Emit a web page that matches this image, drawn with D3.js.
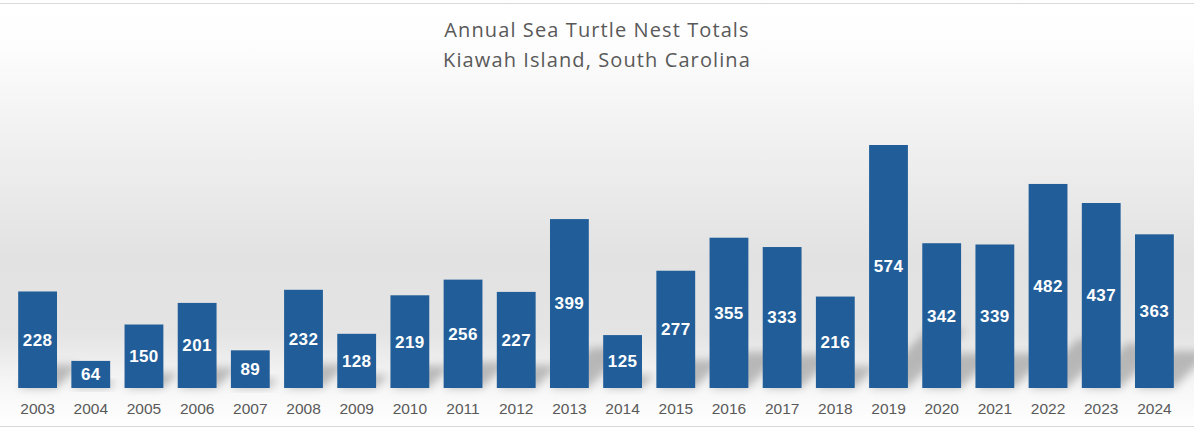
<!DOCTYPE html>
<html>
<head>
<meta charset="utf-8">
<script src="https://cdn.jsdelivr.net/npm/d3@7"></script>
<style>
    body { margin: 0; background: #fff; }
    svg { display: block; }
</style>
</head>
<body>
<script>
// data
var years = ["2003", "2004", "2005", "2006", "2007", "2008", "2009", "2010",
    "2011", "2012", "2013", "2014", "2015", "2016", "2017", "2018", "2019",
    "2020", "2021", "2022", "2023", "2024"];
var nests = [228, 64, 150, 201, 89, 232, 128, 219, 256, 227, 399, 125, 277,
    355, 333, 216, 574, 342, 339, 482, 437, 363];
var titleLines = ["Annual Sea Turtle Nest Totals", "Kiawah Island, South Carolina"];

var W = 1194, H = 429;
var plot = {left: 11, right: 1181, top: 145, bottom: 388};

var svg = d3.select("body").append("svg")
    .attr("width", W)
    .attr("height", H);

var defs = svg.append("defs");

// soft grey wash behind the chart
var grad = defs.append("linearGradient")
    .attr("id", "bg")
    .attr("x1", 0).attr("y1", 0).attr("x2", 0).attr("y2", 1);
[[0, "#ffffff"], [0.1, "#fdfdfd"], [0.35, "#efefef"], [0.6, "#e2e2e2"],
 [0.78, "#e4e4e4"], [0.9, "#f6f6f6"], [1, "#ffffff"]].forEach(function(s) {
    grad.append("stop").attr("offset", s[0]).attr("stop-color", s[1]);
});

defs.append("filter")
    .attr("id", "blur")
    .attr("x", "-50%").attr("y", "-50%")
    .attr("width", "200%").attr("height", "200%")
    .append("feGaussianBlur")
    .attr("stdDeviation", 4);

svg.append("rect")
    .attr("x", 0).attr("y", 4)
    .attr("width", W).attr("height", 422)
    .attr("fill", "url(#bg)");

// thin frame lines top and bottom
svg.append("line")
    .attr("x1", 0).attr("x2", W).attr("y1", 3.5).attr("y2", 3.5)
    .attr("stroke", "#d9d9d9");
svg.append("line")
    .attr("x1", 0).attr("x2", W).attr("y1", 426.5).attr("y2", 426.5)
    .attr("stroke", "#d9d9d9");

var xScale = d3.scaleBand()
    .domain(years)
    .range([plot.left, plot.right])
    .paddingInner(0.27)
    .paddingOuter(0.135);

var yScale = d3.scaleLinear()
    .domain([0, 574])
    .range([plot.bottom, plot.top]);

var data = years.map(function(y, i) { return {key: y, value: nests[i]}; });

// floor shadows leaning to the right
svg.append("g")
    .selectAll("polygon")
    .data(data)
    .enter()
    .append("polygon")
    .attr("points", function(d) {
        var x0 = xScale(d.key), x1 = x0 + xScale.bandwidth();
        var y0 = yScale(0);
        var sh = (y0 - yScale(d.value)) * 0.24;
        return [[x0, y0], [x1, y0], [x1 + sh, y0 - sh], [x0 + sh, y0 - sh]]
            .map(function(p) { return p.join(","); }).join(" ");
    })
    .attr("fill", "#8a8a8a")
    .attr("opacity", 0.55)
    .attr("filter", "url(#blur)");

svg.append("g")
    .selectAll("rect")
    .data(data)
    .enter()
    .append("rect")
    .attr("x", function(d) { return xScale(d.key); })
    .attr("y", function(d) { return yScale(d.value); })
    .attr("width", xScale.bandwidth())
    .attr("height", function(d) { return yScale(0) - yScale(d.value); })
    .attr("fill", "#215e99");

// value labels in the middle of each bar
svg.append("g")
    .selectAll("text")
    .data(data)
    .enter()
    .append("text")
    .attr("x", function(d) { return xScale(d.key) + xScale.bandwidth() / 2; })
    .attr("y", function(d) { return (yScale(0) + yScale(d.value)) / 2; })
    .attr("dy", "0.35em")
    .attr("text-anchor", "middle")
    .attr("font-family", "Liberation Sans, Arial, sans-serif")
    .attr("font-weight", "bold")
    .attr("font-size", "17px")
    .attr("letter-spacing", "0.4px")
    .attr("fill", "#ffffff")
    .text(function(d) { return d.value; });

// category axis, no line or ticks
var xAxis = d3.axisBottom(xScale).tickSize(0).tickPadding(15);
var gx = svg.append("g")
    .attr("transform", "translate(0," + plot.bottom + ")")
    .call(xAxis);
gx.select(".domain").remove();
gx.selectAll("text")
    .attr("font-family", "Liberation Sans, Arial, sans-serif")
    .attr("font-size", "15.5px")
    .attr("fill", "#595959");

svg.append("g")
    .selectAll("text")
    .data(titleLines)
    .enter()
    .append("text")
    .attr("x", W / 2)
    .attr("y", function(d, i) { return 37 + i * 30; })
    .attr("text-anchor", "middle")
    .attr("font-family", "Open Sans, sans-serif")
    .attr("font-size", "20px")
    .attr("letter-spacing", "1.1px")
    .attr("fill", "#595959")
    .text(function(d) { return d; });
</script>
</body>
</html>
